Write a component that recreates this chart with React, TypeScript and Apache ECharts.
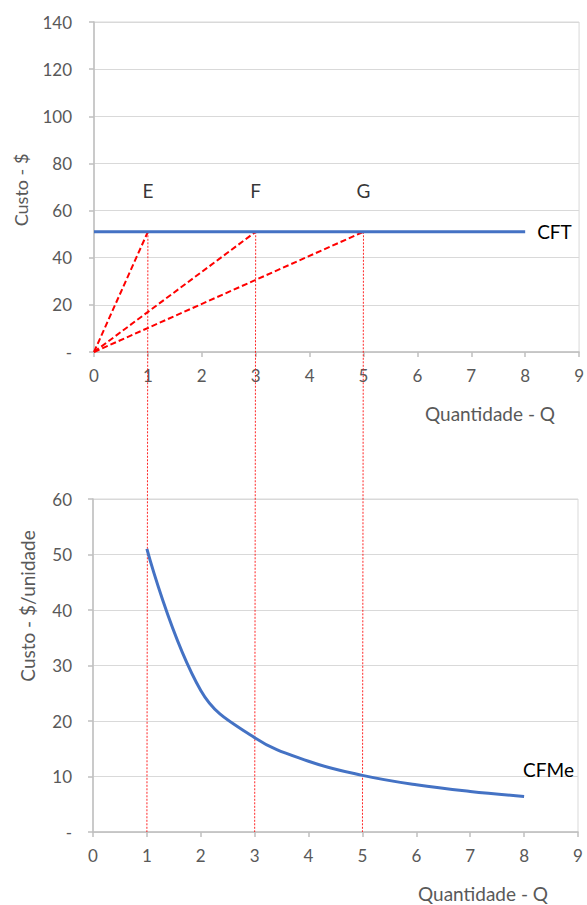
import React, { useEffect, useRef } from "react";
import * as echarts from "echarts";

const FIXED_COST = 51;
const cftQ = [0, 1, 2, 3, 4, 5, 6, 7, 8];
const cftValues = [51, 51, 51, 51, 51, 51, 51, 51, 51];
const cfmeQ = [1, 2, 3, 4, 5, 6, 7, 8];
const cfmeValues = [51, 25.5, 17, 12.75, 10.2, 8.5, 7.3, 6.4];
const rayQ = [1, 3, 5];
const rayLabels = ["E", "F", "G"];
const xTicks = { min: 0, max: 9, interval: 1 };
const topY = { min: 0, max: 140, interval: 20 };
const bottomY = { min: 0, max: 60, interval: 10 };

const FONT = "Lato, 'Open Sans', sans-serif";
const GRAY = "#595959";
const BLUE = "#4472C4";
const RED = "#FF0000";

export default function App() {
  const ref = useRef<HTMLDivElement>(null);
  useEffect(() => {
    document.body.style.margin = "0";
    if (!ref.current) return;
    const chart = echarts.init(ref.current, undefined, { renderer: "svg" });

    const axisCommon = {
      axisLine: { show: true, lineStyle: { color: "#BFBFBF", width: 1.5 } },
      axisTick: { show: true, length: 5, lineStyle: { color: "#BFBFBF", width: 1.5 } },
    };
    const xAxisBase = (gridIndex: number) => ({
      type: "value",
      gridIndex,
      ...xTicks,
      ...axisCommon,
      splitLine: { show: false },
      axisLabel: { color: GRAY, fontSize: 17, fontFamily: FONT, margin: 15 },
    });
    const yAxisBase = (gridIndex: number, range: any, margin: number) => ({
      type: "value",
      gridIndex,
      ...range,
      ...axisCommon,
      splitLine: { show: true, lineStyle: { color: "#D9D9D9", width: 1 } },
      axisLabel: {
        color: GRAY,
        fontSize: 17,
        fontFamily: FONT,
        margin,
        formatter: (v: number) => (v === 0 ? "-" : String(v)),
      },
    });

    const raySeries = rayQ.map((q) => ({
      type: "line",
      xAxisIndex: 0,
      yAxisIndex: 0,
      data: [
        [0, 0],
        [q, FIXED_COST],
      ],
      symbol: "none",
      lineStyle: { color: RED, width: 2, type: [6, 3] },
      z: 3,
    }));

    chart.setOption({
      animation: false,
      grid: [
        { left: 94, top: 22, width: 489, height: 330, show: true, borderColor: "#D9D9D9", borderWidth: 1 },
        { left: 93, top: 499, width: 485, height: 333, show: true, borderColor: "#D9D9D9", borderWidth: 1 },
      ],
      xAxis: [xAxisBase(0), xAxisBase(1)],
      yAxis: [yAxisBase(0, topY, 22), yAxisBase(1, bottomY, 21)],
      series: [
        ...raySeries,
        {
          type: "line",
          name: "CFT",
          xAxisIndex: 0,
          yAxisIndex: 0,
          data: cftQ.map((q, i) => [q, cftValues[i]]),
          symbol: "none",
          lineStyle: { color: BLUE, width: 3 },
          z: 4,
          endLabel: {
            show: true,
            formatter: "CFT",
            color: "#000",
            fontSize: 19,
            fontFamily: FONT,
            distance: 12,
          },
        },
        {
          type: "scatter",
          xAxisIndex: 0,
          yAxisIndex: 0,
          symbolSize: 0,
          data: rayQ.map((q, i) => ({ value: [q, FIXED_COST], name: rayLabels[i] })),
          label: {
            show: true,
            position: "top",
            distance: 32,
            formatter: (p: any) => p.name,
            color: "#000",
            fontSize: 19,
            fontFamily: FONT,
          },
          z: 5,
        },
        {
          type: "line",
          name: "CFMe",
          xAxisIndex: 1,
          yAxisIndex: 1,
          data: cfmeQ.map((q, i) => [q, cfmeValues[i]]),
          symbol: "none",
          smooth: 0.4,
          lineStyle: { color: BLUE, width: 3 },
          z: 4,
          endLabel: {
            show: true,
            formatter: "CFMe",
            color: "#000",
            fontSize: 19,
            fontFamily: FONT,
            distance: 0,
            offset: [-1, -27],
          },
        },
      ],
      graphic: [
        {
          id: "ytitle0",
          type: "text",
          x: 21,
          y: 190,
          rotation: Math.PI / 2,
          style: {
            text: "Custo - $",
            fill: GRAY,
            font: `18px ${FONT}`,
            textAlign: "center",
            textVerticalAlign: "middle",
          },
        },
        {
          id: "ytitle1",
          type: "text",
          x: 27,
          y: 606,
          rotation: Math.PI / 2,
          style: {
            text: "Custo - $/unidade",
            fill: GRAY,
            font: `19px ${FONT}`,
            textAlign: "center",
            textVerticalAlign: "middle",
          },
        },
        {
          id: "xtitle0",
          type: "text",
          x: 490,
          y: 413,
          style: {
            text: "Quantidade - Q",
            fill: GRAY,
            font: `19px ${FONT}`,
            textAlign: "center",
            textVerticalAlign: "middle",
          },
        },
        {
          id: "xtitle1",
          type: "text",
          x: 483,
          y: 893,
          style: {
            text: "Quantidade - Q",
            fill: GRAY,
            font: `19px ${FONT}`,
            textAlign: "center",
            textVerticalAlign: "middle",
          },
        },
      ],
    });

    const lines = rayQ.map((q, i) => {
      const p1 = chart.convertToPixel({ xAxisIndex: 0, yAxisIndex: 0 } as any, [q, FIXED_COST]) as number[];
      const p2 = chart.convertToPixel({ xAxisIndex: 1, yAxisIndex: 1 } as any, [q, 0]) as number[];
      return {
        id: "vline" + i,
        type: "line",
        z: 2,
        shape: { x1: p1[0], y1: p1[1], x2: p2[0], y2: p2[1] },
        style: { stroke: RED, lineWidth: 1, lineDash: [2, 1.5], opacity: 0.85 },
      };
    });
    chart.setOption({ graphic: lines });

    return () => chart.dispose();
  }, []);
  return <div ref={ref} style={{ width: 587, height: 905 }} />;
}
